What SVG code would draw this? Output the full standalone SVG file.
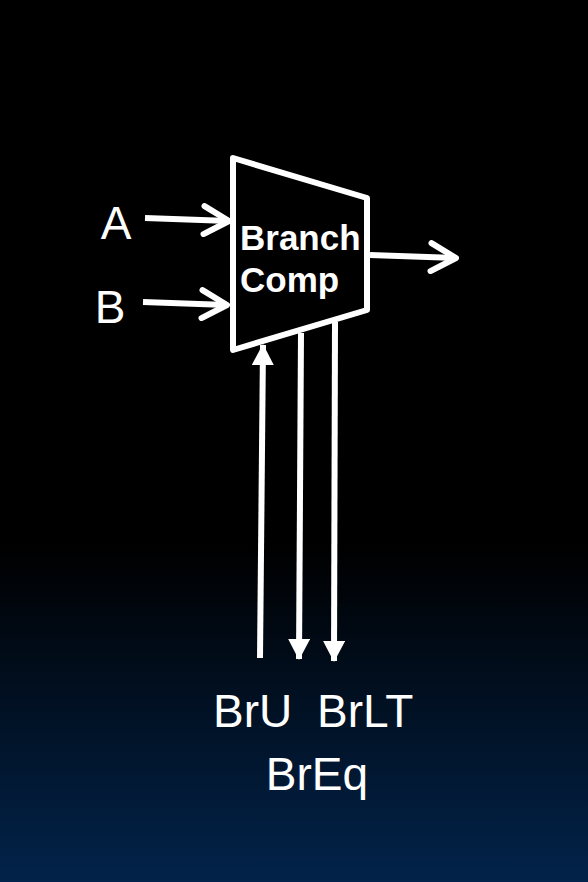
<svg xmlns="http://www.w3.org/2000/svg" width="588" height="882" viewBox="0 0 588 882">
<defs>
<linearGradient id="bg" x1="0" y1="0" x2="0" y2="1">
<stop offset="0" stop-color="#000000"/>
<stop offset="0.62" stop-color="#000000"/>
<stop offset="1" stop-color="#02234a"/>
</linearGradient>
<marker id="open" viewBox="0 0 32 34" refX="29" refY="17" markerWidth="32" markerHeight="34" markerUnits="userSpaceOnUse" orient="auto">
<path d="M4,3 L29,17 L4,31" fill="none" stroke="#fff" stroke-width="6" stroke-linecap="round" stroke-linejoin="round"/>
</marker>
<marker id="tri" viewBox="0 0 21 22" refX="20" refY="11" markerWidth="21" markerHeight="22" markerUnits="userSpaceOnUse" orient="auto">
<path d="M0,0 L21,11 L0,22 Z" fill="#fff"/>
</marker>
</defs>
<style>
.w{stroke:#fff;stroke-width:6;fill:none}
.t{fill:#fff;font-family:"Liberation Sans",Arial,sans-serif}
</style>
<rect width="588" height="882" fill="url(#bg)"/>
<g id="comp">
<path class="w" d="M233,158 L367,198 L367,310 L233,350 Z" stroke-linejoin="round"/>
<text class="t" x="240" y="250" font-size="35" font-weight="bold">Branch</text>
<text class="t" x="240" y="292" font-size="35" font-weight="bold">Comp</text>
</g>
<g id="labels">
<text class="t" x="116" y="239" font-size="46" text-anchor="middle">A</text>
<text class="t" x="110" y="323" font-size="46" text-anchor="middle">B</text>
<text class="t" x="213" y="727" font-size="46">BrU</text>
<text class="t" x="317" y="727" font-size="46">BrLT</text>
<text class="t" x="317" y="790" font-size="46" text-anchor="middle">BrEq</text>
</g>
<g id="connectors">
<line class="w" x1="145" y1="218" x2="229" y2="221" marker-end="url(#open)"/>
<line class="w" x1="143" y1="302" x2="227" y2="305" marker-end="url(#open)"/>
<line class="w" x1="370" y1="255" x2="456" y2="258" marker-end="url(#open)"/>
<line class="w" x1="260" y1="658" x2="263" y2="345" marker-end="url(#tri)"/>
<line class="w" x1="301" y1="333" x2="299" y2="659" marker-end="url(#tri)"/>
<line class="w" x1="335" y1="322" x2="334" y2="661" marker-end="url(#tri)"/>
</g>
</svg>
